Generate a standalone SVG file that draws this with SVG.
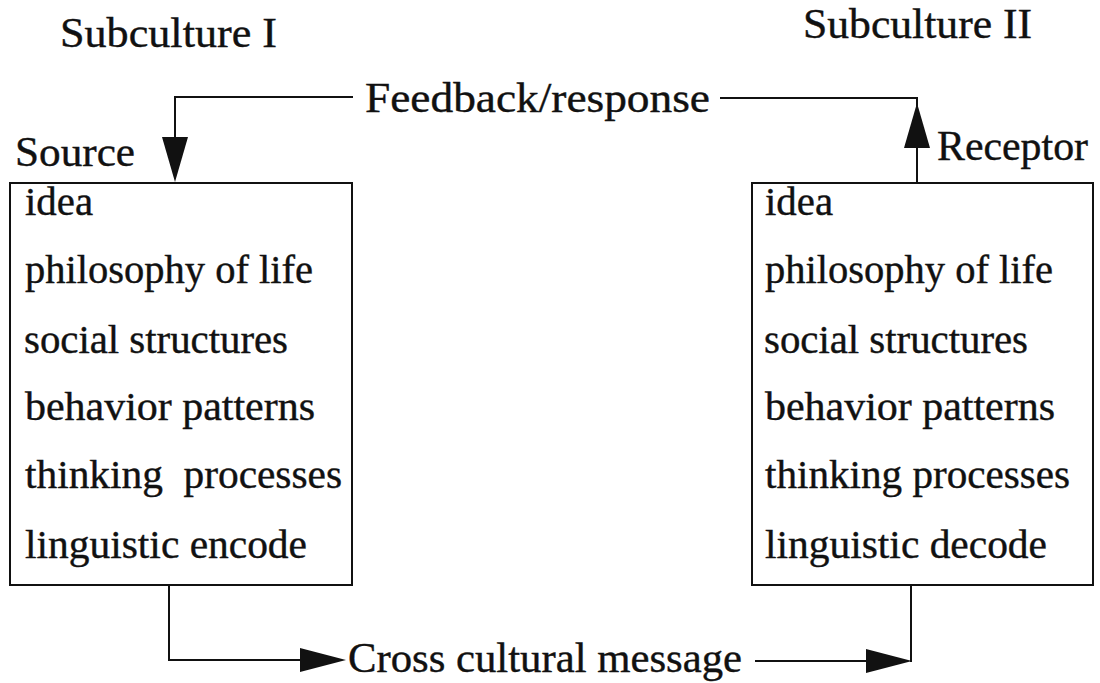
<svg xmlns="http://www.w3.org/2000/svg" width="1100" height="683" viewBox="0 0 1100 683">
<style>
text { font-family: "Liberation Serif", "Times New Roman", serif; fill: #111; stroke: #111; stroke-width: 0.4; }
.item { font-size: 40px; }
.lbl { font-size: 42px; }
.box { fill: none; stroke: #111; stroke-width: 2; }
.conn { fill: none; stroke: #111; stroke-width: 2; }
.head { fill: #111; stroke: none; }
</style>
<rect width="1100" height="683" fill="#fff"/>
<g id="titles">
<text class="lbl" x="60" y="47" textLength="217" lengthAdjust="spacingAndGlyphs">Subculture I</text>
<text class="lbl" x="803" y="38" textLength="229" lengthAdjust="spacingAndGlyphs">Subculture II</text>
</g>
<g id="source">
<text class="lbl" x="15" y="166" textLength="120" lengthAdjust="spacingAndGlyphs">Source</text>
<rect class="box" x="10" y="183" width="342" height="402"/>
<text class="item" x="25" y="215" textLength="68" lengthAdjust="spacingAndGlyphs">idea</text>
<text class="item" x="25" y="283" textLength="288" lengthAdjust="spacingAndGlyphs">philosophy of life</text>
<text class="item" x="24" y="353" textLength="264" lengthAdjust="spacingAndGlyphs">social structures</text>
<text class="item" x="25" y="420" textLength="290" lengthAdjust="spacingAndGlyphs">behavior patterns</text>
<text class="item" x="25" y="488" textLength="317" lengthAdjust="spacingAndGlyphs" xml:space="preserve">thinking  processes</text>
<text class="item" x="25" y="558" textLength="282" lengthAdjust="spacingAndGlyphs">linguistic encode</text>
</g>
<g id="receptor">
<text class="lbl" x="937" y="160" textLength="151" lengthAdjust="spacingAndGlyphs">Receptor</text>
<rect class="box" x="752" y="183" width="341" height="402"/>
<text class="item" x="765" y="215" textLength="68" lengthAdjust="spacingAndGlyphs">idea</text>
<text class="item" x="765" y="283" textLength="288" lengthAdjust="spacingAndGlyphs">philosophy of life</text>
<text class="item" x="764" y="353" textLength="264" lengthAdjust="spacingAndGlyphs">social structures</text>
<text class="item" x="765" y="420" textLength="290" lengthAdjust="spacingAndGlyphs">behavior patterns</text>
<text class="item" x="765" y="488" textLength="305" lengthAdjust="spacingAndGlyphs">thinking processes</text>
<text class="item" x="765" y="558" textLength="282" lengthAdjust="spacingAndGlyphs">linguistic decode</text>
</g>
<g id="connectors">
<polyline class="conn" points="353,97 175,97 175,140"/>
<polygon class="head" points="162,137 188,137 175,182"/>
<polyline class="conn" points="917,183 917,98 720,98"/>
<polygon class="head" points="904,148 930,148 917,103"/>
<text class="lbl" x="365" y="112" textLength="345" lengthAdjust="spacingAndGlyphs">Feedback/response</text>
<polyline class="conn" points="169,585 169,660 305,660"/>
<polygon class="head" points="300,648 346,660 300,672"/>
<text class="lbl" x="348" y="672" textLength="394" lengthAdjust="spacingAndGlyphs">Cross cultural message</text>
<polyline class="conn" points="755,661 870,661"/>
<polyline class="conn" points="911,585 911,662"/>
<polygon class="head" points="866,649 912,661 866,673"/>
</g>
</svg>
